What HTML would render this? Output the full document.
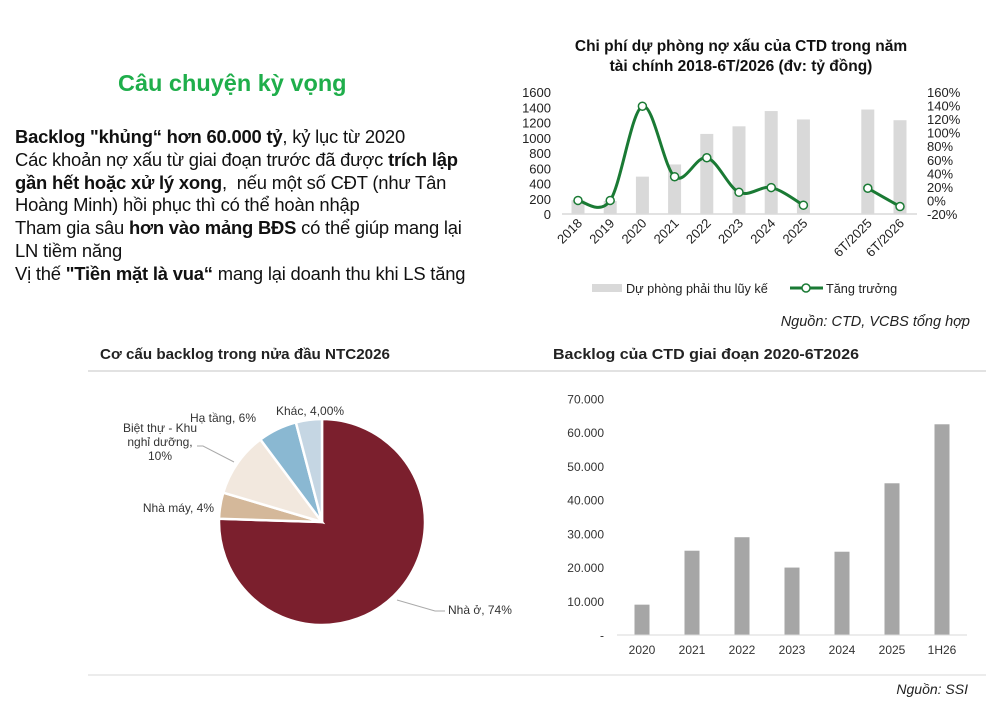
<!DOCTYPE html>
<html><head><meta charset="utf-8">
<style>
html,body{margin:0;padding:0;background:#fff;}
body{width:1002px;height:706px;position:relative;overflow:hidden;font-family:"Liberation Sans","Noto Sans CJK SC",sans-serif;}
.abs{position:absolute;white-space:nowrap;}
#story{position:absolute;left:15px;top:126px;font-size:18.4px;line-height:22.8px;color:#111;letter-spacing:-0.2px;}
#story b{font-weight:bold;}
</style></head><body>
<div class="abs" style="left:118px;top:70px;font-size:23.5px;font-weight:bold;color:#1fae4b;">Câu chuyện kỳ vọng</div>
<div id="story">
<div><b>Backlog "khủng“ hơn 60.000 tỷ</b>, kỷ lục từ 2020</div>
<div>Các khoản nợ xấu từ giai đoạn trước đã được <b>trích lập</b></div>
<div><b>gần hết hoặc xử lý xong</b>,&nbsp; nếu một số CĐT (như Tân</div>
<div>Hoàng Minh) hồi phục thì có thể hoàn nhập</div>
<div>Tham gia sâu <b>hơn vào mảng BĐS</b> có thể giúp mang lại</div>
<div>LN tiềm năng</div>
<div>Vị thế <b>"Tiền mặt là vua“</b> mang lại doanh thu khi LS tăng</div>
</div>

<svg id="top" width="1002" height="706" style="position:absolute;left:0;top:0" font-family="Liberation Sans, sans-serif">
<text x="741" y="51" text-anchor="middle" font-size="15.5" font-weight="bold" fill="#111">Chi phí dự phòng nợ xấu của CTD trong năm</text>
<text x="741" y="71" text-anchor="middle" font-size="15.5" font-weight="bold" fill="#111">tài chính 2018-6T/2026 (đv: tỷ đồng)</text>
<g id="topG"></g>
<rect x="592" y="284" width="30" height="8" fill="#d9d9d9"/>
<text x="626" y="293" font-size="12.7" fill="#222">Dự phòng phải thu lũy kế</text>
<line x1="790" y1="288" x2="823" y2="288" stroke="#1a7a34" stroke-width="3"/>
<circle cx="806" cy="288" r="4" fill="#fff" stroke="#1a7a34" stroke-width="1.5"/>
<text x="826" y="293" font-size="12.7" fill="#222">Tăng trưởng</text>
<text x="970" y="326" text-anchor="end" font-size="14.5" font-style="italic" fill="#222">Nguồn: CTD, VCBS tổng hợp</text>

<text x="100" y="359" font-size="15" font-weight="bold" fill="#222" textLength="290" lengthAdjust="spacingAndGlyphs">Cơ cấu backlog trong nửa đầu NTC2026</text>
<text x="553" y="359" font-size="15" font-weight="bold" fill="#222" textLength="306" lengthAdjust="spacingAndGlyphs">Backlog của CTD giai đoạn 2020-6T2026</text>
<line x1="88" y1="371" x2="986" y2="371" stroke="#d8d8d8" stroke-width="1.5"/>
<line x1="88" y1="675" x2="986" y2="675" stroke="#d8d8d8" stroke-width="1"/>
<text x="968" y="694" text-anchor="end" font-size="14" font-style="italic" fill="#222">Nguồn: SSI</text>
<g id="pieG"></g>
<g id="barG"></g>
</svg>

<script>
// ---- top chart data ----
const provCats = ["2018","2019","2020","2021","2022","2023","2024","2025","","6T/2025","6T/2026"];
const provValues = [180,170,490,650,1050,1150,1350,1240,null,1370,1230];
const growthValues = [0,0,139,35,63,12,19,-7,null,18,-9];
const leftTicks = [0,200,400,600,800,1000,1200,1400,1600];
const rightTicks = [-20,0,20,40,60,80,100,120,140,160];
// ---- pie data ----
const pieCats = ["Nhà ở","Nhà máy","Biệt thự - Khu nghỉ dưỡng","Hạ tầng","Khác"];
const pieValues = [74,4,10,6,4];
const pieColors = ["#7b1f2d","#d4b89a","#f2e8de","#8ab8d2","#c5d6e3"];
// ---- backlog data ----
const backCats = ["2020","2021","2022","2023","2024","2025","1H26"];
const backValues = [9000,25000,29000,20000,24700,45000,62500];
const backTicks = [0,10000,20000,30000,40000,50000,60000,70000];

const NS="http://www.w3.org/2000/svg";
function mk(tag,attrs,parent,txt){const e=document.createElementNS(NS,tag);for(const k in attrs)e.setAttribute(k,attrs[k]);if(txt!==undefined)e.textContent=txt;parent.appendChild(e);return e;}

// top chart
(function(){
 const g=document.getElementById('topG');
 const x0=578, step=32.2, yB=214, yT=92;
 const yL=v=>yB-(v/1600)*(yB-yT);
 const yR=v=>yB-((v+20)/180)*(yB-yT);
 const xs=i=>x0+i*step;
 leftTicks.forEach(t=>{const e=mk('text',{x:551,y:yL(t)+5,'text-anchor':'end','font-size':13,fill:'#222'},g,String(t));
  
  });
 rightTicks.forEach(t=>{const e=mk('text',{x:927,y:yR(t)+5,'font-size':13,fill:'#222'},g,t+'%');
  
  });
 provValues.forEach((v,i)=>{if(v===null)return;const e=mk('rect',{x:xs(i)-6.5,y:yL(v),width:13,height:yB-yL(v),fill:'#d9d9d9'},g);
  
  });
 const ax=mk('line',{x1:562,y1:yB,x2:917,y2:yB,stroke:'#d9d9d9','stroke-width':1.5},g);
 
 
 provCats.forEach((c,i)=>{if(!c)return;const x=xs(i)+5,y=yB+10;
  const e=mk('text',{x:x,y:y,'text-anchor':'end','font-size':13,fill:'#222',transform:`rotate(-45 ${x} ${y})`},g,c);
  
  });
 const segs=[];let cur=[];
 growthValues.forEach((v,i)=>{if(v===null){if(cur.length)segs.push(cur);cur=[];}else cur.push([xs(i),yR(v)]);});
 if(cur.length)segs.push(cur);
 segs.forEach(p=>{let d=`M${p[0][0]},${p[0][1]}`;
  for(let i=0;i<p.length-1;i++){const p0=p[i-1]||p[i],p1=p[i],p2=p[i+1],p3=p[i+2]||p2;
   d+=` C${p1[0]+(p2[0]-p0[0])/6},${p1[1]+(p2[1]-p0[1])/6} ${p2[0]-(p3[0]-p1[0])/6},${p2[1]-(p3[1]-p1[1])/6} ${p2[0]},${p2[1]}`;}
  const e=mk('path',{d:d,fill:'none',stroke:'#1a7a34','stroke-width':3},g);
  
  
  p.forEach(q=>{const c=mk('circle',{cx:q[0],cy:q[1],r:4,fill:'#fff',stroke:'#1a7a34','stroke-width':1.5},g);
   
   });
 });
})();

// pie
(function(){
 const g=document.getElementById('pieG');
 const cx=322,cy=522,r=103;
 const tot=pieValues.reduce((a,b)=>a+b,0);
 let a=0;
 pieValues.forEach((v,i)=>{const a0=a,a1=a+v/tot*2*Math.PI;a=a1;
  const p=t=>[cx+r*Math.sin(t),cy-r*Math.cos(t)];
  const s=p(a0),e=p(a1);
  const el=mk('path',{d:`M${cx},${cy} L${s[0]},${s[1]} A${r},${r} 0 ${a1-a0>Math.PI?1:0} 1 ${e[0]},${e[1]} Z`,fill:pieColors[i],stroke:'#fff','stroke-width':2.5},g);
  
  });
 const lab=[[448,614,'start','Nhà ở, 74%'],[214,512,'end','Nhà máy, 4%'],[256,422,'end','Hạ tầng, 6%'],[276,415,'start','Khác, 4,00%']];
 lab.forEach(l=>{const e=mk('text',{x:l[0],y:l[1],'text-anchor':l[2],'font-size':12,fill:'#333'},g,l[3]);
  
  });
 ['Biệt thự - Khu','nghỉ dưỡng,','10%'].forEach((t,i)=>{const e=mk('text',{x:160,y:432+i*14,'text-anchor':'middle','font-size':12,fill:'#333'},g,t);
  
  });
 mk('polyline',{points:'197,446 203,446 234,462',fill:'none',stroke:'#aaa','stroke-width':1},g);
 mk('polyline',{points:'397,600 435,611 445,611',fill:'none',stroke:'#aaa','stroke-width':1},g);
})();

// backlog bars
(function(){
 const g=document.getElementById('barG');
 const yB=635,yT=399,x0=642,step=50;
 const y=v=>yB-v/70000*(yB-yT);
 backTicks.forEach(t=>{const e=mk('text',{x:604,y:y(t)+4.5,'text-anchor':'end','font-size':12,fill:'#333'},g,t===0?'-':t.toLocaleString('de-DE'));
  
  });
 backValues.forEach((v,i)=>{const e=mk('rect',{x:x0+i*step-7.5,y:y(v),width:15,height:yB-y(v),fill:'#a6a6a6'},g);
  
  });
 const ax=mk('line',{x1:617,y1:yB,x2:967,y2:yB,stroke:'#d9d9d9','stroke-width':1},g);
 
 
 backCats.forEach((c,i)=>{const e=mk('text',{x:x0+i*step,y:654,'text-anchor':'middle','font-size':12,fill:'#333'},g,c);
  
  });
})();
</script>
</body></html>
